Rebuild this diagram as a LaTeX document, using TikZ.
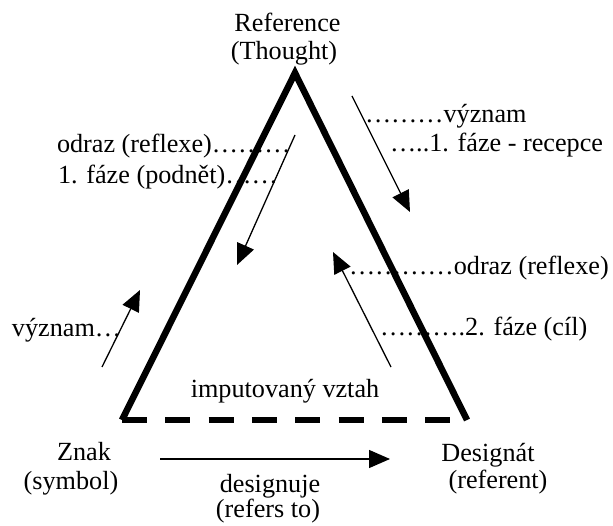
\documentclass[tikz,border=0pt]{standalone}
\usepackage{fontspec}
\setmainfont{Liberation Serif}
\usetikzlibrary{arrows.meta}
\tikzset{
  lbl/.style={inner sep=0pt, outer sep=0pt, font=\fontsize{26.2}{30}\selectfont},
  side/.style={line width=6.5pt, line join=miter, line cap=butt},
  dashside/.style={line width=6.5pt, dash pattern=on 25pt off 18.3pt},
  thinarrow/.style={line width=1.3pt, -{Triangle[length=21pt,width=18pt]}},
}
\begin{document}
\begin{tikzpicture}[x=1pt,y=-1pt]
\useasboundingbox (0,0) rectangle (613,526);
% triangle corners
\coordinate (A) at (295,73);
\coordinate (B) at (122,420);
\coordinate (C) at (467,420);
\draw[side] (B) -- (A) -- (C);
\draw[dashside] (B) -- (C);
% arrow end points
\coordinate (r1s) at (352,96);  \coordinate (r1e) at (410,212);
\coordinate (l1s) at (295,135); \coordinate (l1e) at (237,265);
\coordinate (r2s) at (391,367); \coordinate (r2e) at (333,252);
\coordinate (l2s) at (102,367); \coordinate (l2e) at (140,290);
\coordinate (hs) at (160,459);  \coordinate (he) at (390,459);
\draw[thinarrow] (r1s) -- (r1e);
\draw[thinarrow] (l1s) -- (l1e);
\draw[thinarrow] (r2s) -- (r2e);
\draw[thinarrow] (l2s) -- (l2e);
\draw[thinarrow] (hs) -- (he);
% labels
\node[lbl, anchor=base] (ref1) at (287.5,32) {Reference};
\node[lbl, anchor=base] (ref2) at (284,60) {(Thought)};
\node[lbl, anchor=base west] (lt1) at (57,153) {odraz (reflexe)………};
\node[lbl, anchor=base west] (lt2) at (58,184) {1. fáze (podnět)……};
\node[lbl, anchor=base west] (rt1) at (365,123) {………význam};
\node[lbl, anchor=base west] (rt2) at (390,152) {…..1. fáze - recepce};
\node[lbl, anchor=base west] (rm1) at (349,275) {…………odraz (reflexe)};
\node[lbl, anchor=base west] (rm2) at (380,336) {……….2. fáze (cíl)};
\node[lbl, anchor=base west] (lm) at (12,337) {význam…};
\node[lbl, anchor=base] (imp) at (285,398) {imputovaný vztah};
\node[lbl, anchor=base] (znak) at (84,460) {Znak};
\node[lbl, anchor=base] (symb) at (71,489) {(symbol)};
\node[lbl, anchor=base] (des) at (488,461) {Designát};
\node[lbl, anchor=base] (refer) at (498,488) {(referent)};
\node[lbl, anchor=base] (dsg) at (270,492) {designuje};
\node[lbl, anchor=base] (rto) at (268,517) {(refers to)};
\end{tikzpicture}
\end{document}
